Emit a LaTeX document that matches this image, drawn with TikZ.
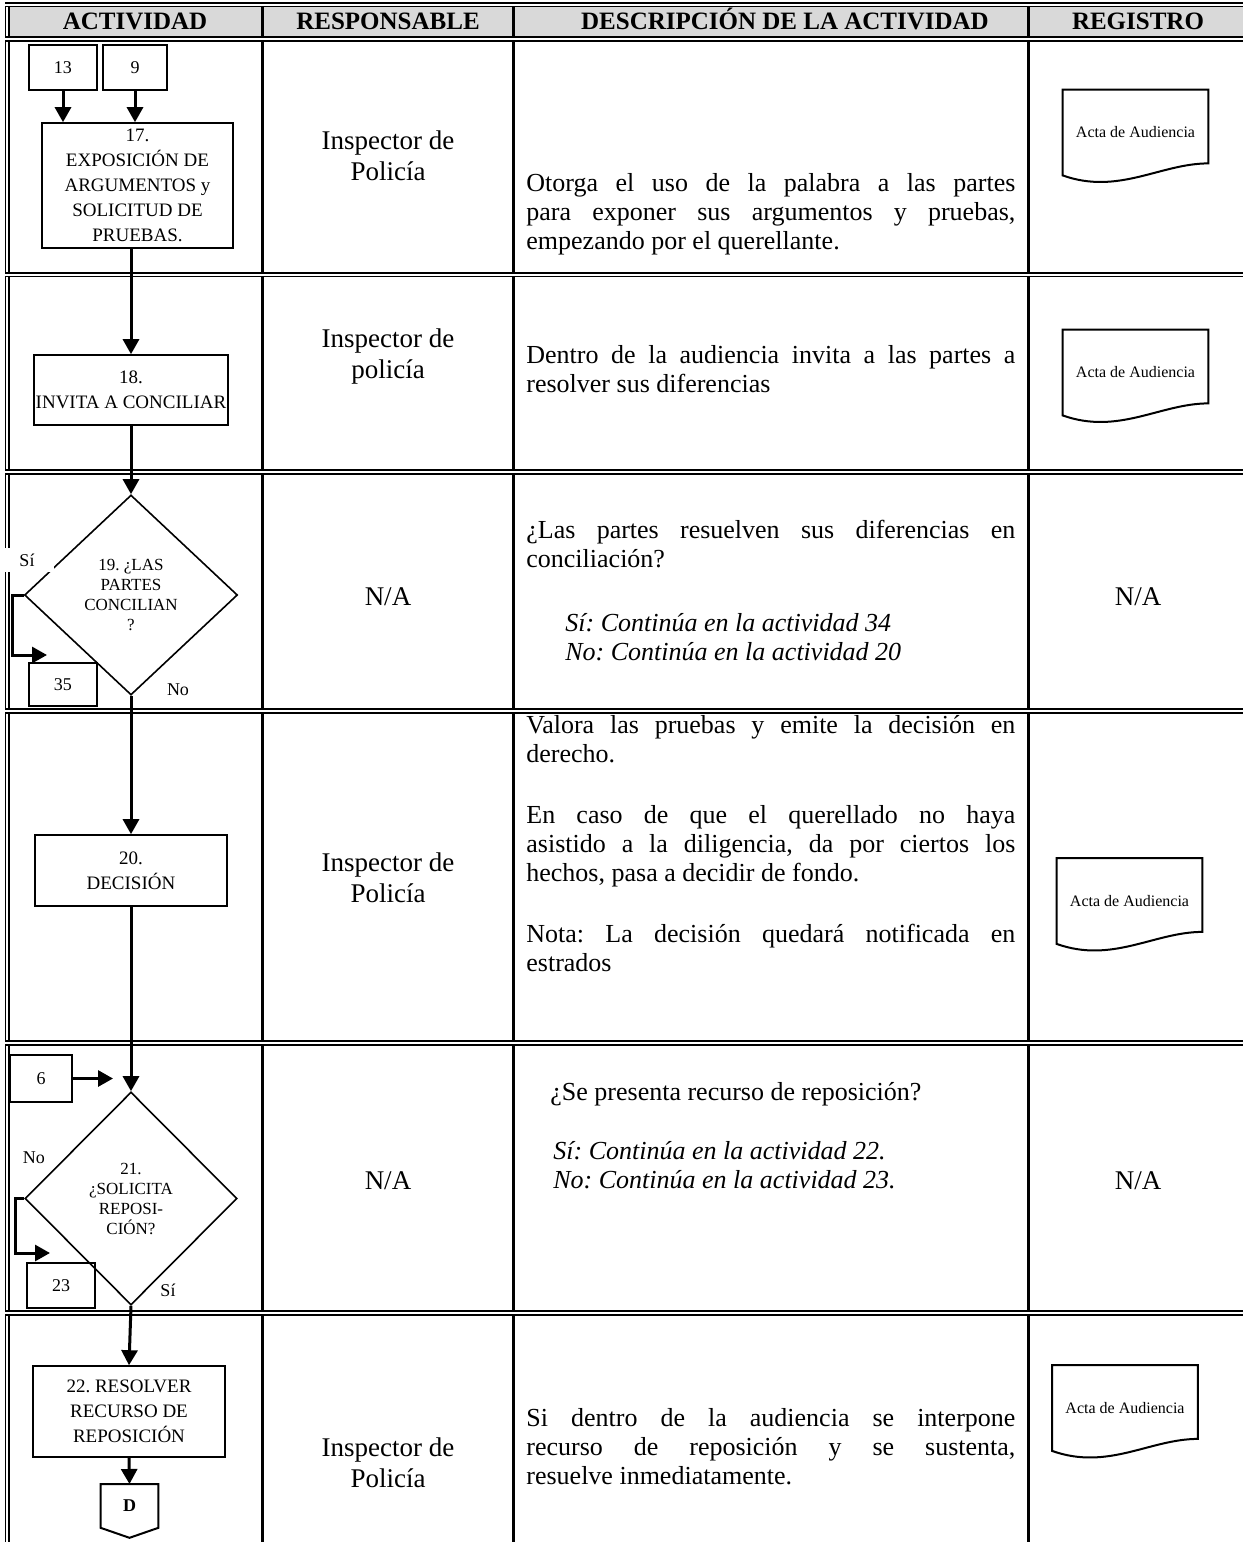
\documentclass[tikz,border=0pt]{standalone}
\usepackage{fontspec}
\setmainfont{Liberation Serif}
\usetikzlibrary{arrows.meta,shapes.geometric}

\definecolor{headgray}{HTML}{D9D9D9}

\newcommand{\headfont}{\fontsize{12.5}{14}\selectfont\bfseries}
\newcommand{\respfont}{\fontsize{13.5}{15.5}\selectfont}
\newcommand{\descfont}{\fontsize{13}{14.5}\selectfont}
\newcommand{\boxfont}{\fontsize{9.5}{12.5}\selectfont}
\newcommand{\diafont}{\fontsize{8.5}{10}\selectfont}
\newcommand{\regfont}{\fontsize{8}{10}\selectfont}
\newcommand{\tagfont}{\fontsize{9}{11}\selectfont}

\begin{document}
\frenchspacing
\begin{tikzpicture}[x = 0.5pt, y = -0.5pt,
	colline/.style = {line width = 1.5pt},
	rowline/.style = {double, line width = 0.8pt, double distance = 1pt},
	edgeline/.style = {double, line width = 0.75pt, double distance = 1pt},
	head/.style = {font = \headfont, anchor = base},
	actbox/.style = {draw, line width = 0.8pt, font = \boxfont, align = center, inner sep = 1pt},
	tagbox/.style = {draw, line width = 1pt, font = \tagfont, inner sep = 1pt},
	decision/.style = {diamond, draw, line width = 0.8pt, font = \diafont, align = center, inner sep = 0pt},
	flow/.style = {line width = 1.5pt, -{Triangle[width = 8pt, length = 7.5pt]}},
	tag/.style = {font = \tagfont, inner sep = 1pt},
	resp/.style = {font = \respfont, align = center},
	desc/.style = {font = \descfont, text width = 244.5pt, align = justify, inner sep = 0pt, anchor = north west},
	descline/.style = {font = \descfont, align = left, inner sep = 0pt, anchor = north west},
	opt/.style = {descline, font = \descfont\itshape},
	acta/.style = {font = \regfont, minimum width = 72.5pt, minimum height = 42.5pt, inner sep = 0pt}]
	\useasboundingbox (0,0) rectangle (1243,1542);

	% table
	\fill[headgray] (9,6) rectangle (1243,37);
	\foreach \x in {262.5, 513.5, 1028} {
		\draw[colline] (\x,4) -- (\x,1542);
	}
	\draw[edgeline] (7,3) -- (7,1542);
	\foreach \y in {4.5, 39, 274.5, 472, 711, 1043, 1313} {
		\draw[rowline] (5,\y) -- (1243,\y);
	}

	\node[head] (hdact) at (135,29.5) {ACTIVIDAD};
	\node[head] (hdresp) at (388,29.5) {RESPONSABLE};
	\node[head] (hddesc) at (785,29.5) {DESCRIPCIÓN DE LA ACTIVIDAD};
	\node[head] (hdreg) at (1138,29.5) {REGISTRO};

	% flow
	\node[tagbox, minimum width = 34pt, minimum height = 22.5pt] (in13) at (63,67.5) {13};
	\node[tagbox, minimum width = 32pt, minimum height = 22.5pt] (in9) at (135,67.5) {9};
	\node[actbox, minimum width = 95.5pt, minimum height = 62.5pt] (act17) at (137.5,185.5)
		{17.\\EXPOSICIÓN DE\\ARGUMENTOS y\\SOLICITUD DE\\PRUEBAS.};
	\node[actbox, minimum width = 95.5pt, minimum height = 35pt] (act18) at (131,390)
		{18.\\INVITA A CONCILIAR};
	\node[decision, minimum width = 106.5pt, minimum height = 100pt] (dec19) at (131,595)
		{19. ¿LAS\\PARTES\\CONCILIAN\\?};
	\node[tagbox, minimum width = 34pt, minimum height = 21.5pt] (out35) at (63,684.5) {35};
	\node[actbox, minimum width = 96pt, minimum height = 35.5pt] (act20) at (131,870.5)
		{20.\\DECISIÓN};
	\node[tagbox, minimum width = 31pt, minimum height = 23.5pt] (in6) at (41,1078.5) {6};
	\node[decision, minimum width = 106pt, minimum height = 106.5pt] (dec21) at (131,1198.5)
		{21.\\¿SOLICITA\\REPOSI-\\CIÓN?};
	\node[tagbox, minimum width = 34pt, minimum height = 22.5pt] (out23) at (61,1285.5) {23};
	\node[actbox, minimum width = 96pt, minimum height = 45.5pt] (act22) at (129,1411.5)
		{22. RESOLVER\\RECURSO DE\\REPOSICIÓN};
	\node[font = \bfseries\tagfont, minimum width = 28.5pt, minimum height = 21.5pt,
		inner sep = 0pt, anchor = north] (offD) at (129.5,1484) {D};
	\draw[line width = 1pt] (offD.north west) -- (offD.north east) -- (offD.south east)
		-- ([yshift = -5pt]offD.south) -- (offD.south west) -- cycle;

	\coordinate (j35) at (47,655);
	\coordinate (j6) at (113,1078.5);
	\coordinate (j23) at (50,1253);

	\draw[flow] (in13.south) -- (in13.south |- act17.north);
	\draw[flow] (in9.south) -- (in9.south |- act17.north);
	\draw[flow] (act18.north |- act17.south) -- (act18.north);
	\draw[flow] (act18.south) -- (dec19.north);
	\draw[flow] (dec19.west) -- ++(-11,0) |- (j35);
	\draw[flow] (dec19.south) -- (act20.north);
	\draw[flow] (act20.south) -- (dec21.north);
	\draw[flow] (in6.east) -- (j6);
	\draw[flow] (dec21.west) -- ++(-9,0) |- (j23);
	\draw[flow] (dec21.south) -- (act22.north);
	\draw[flow] (act22.south) -- (offD.north);

	\node[tag, fill = white, minimum width = 27pt, minimum height = 12pt] (si19) at (27,560) {Sí};
	\node[tag] (no19) at (178,690) {No};
	\node[tag] (no21) at (34,1158) {No};
	\node[tag] (si21) at (168,1290) {Sí};

	% responsible
	\node[resp] (resp1) at (388,156) {Inspector de\\Policía};
	\node[resp] (resp2) at (388,357) {Inspector de\\policía};
	\node[resp] (resp3) at (388,597) {N/A};
	\node[resp] (resp4) at (388,878) {Inspector de\\Policía};
	\node[resp] (resp5) at (388,1181) {N/A};
	\node[resp] (resp6) at (388,1463) {Inspector de\\Policía};

	% description
	\node[desc] (desc1) at (526,173) {Otorga el uso de la palabra a las partes\linebreak
		para exponer sus argumentos y pruebas,\linebreak empezando por el querellante.};
	\node[desc] (desc2) at (526,345) {Dentro de la audiencia invita a las partes a\linebreak
		resolver sus diferencias};
	\node[desc] (desc3) at (526,520) {¿Las partes resuelven sus diferencias en\linebreak
		conciliación?};
	\node[opt] (opt3) at (565,613) {Sí: Continúa en la actividad 34\\No: Continúa en la actividad 20};
	\node[desc] (desc4) at (526,715) {Valora las pruebas y emite la decisión en\linebreak
		derecho.\par\vspace{16pt}
		En caso de que el querellado no haya\linebreak asistido a la diligencia, da por ciertos los\linebreak
		hechos, pasa a decidir de fondo.\par\vspace{16pt}
		Nota: La decisión quedará notificada en\linebreak estrados};
	\node[descline] (desc5) at (550,1082) {¿Se presenta recurso de reposición?};
	\node[opt] (opt5) at (553,1141) {Sí: Continúa en la actividad 22.\\No: Continúa en la actividad 23.};
	\node[desc] (desc6) at (526,1408) {Si dentro de la audiencia se interpone\linebreak
		recurso de reposición y se sustenta,\linebreak resuelve inmediatamente.};

	% register
	\node[acta] (reg1) at (1135.5,132.5) {Acta de Audiencia};
	\node[acta] (reg2) at (1135.5,372.5) {Acta de Audiencia};
	\node[resp] (na3) at (1138,597) {N/A};
	\node[acta] (reg4) at (1129.5,901) {Acta de Audiencia};
	\node[resp] (na5) at (1138,1181) {N/A};
	\node[acta] (reg6) at (1125,1408) {Acta de Audiencia};
	\foreach \r in {reg1, reg2, reg4, reg6} {
		\draw[line width = 1pt] (\r.north west) -- (\r.north east) -- ([yshift = 6pt]\r.south east)
			.. controls ([xshift = -24pt, yshift = 6pt]\r.south east) and ([xshift = 28pt, yshift = -10pt]\r.south west)
			.. (\r.south west) -- cycle;
	}
\end{tikzpicture}
\end{document}
